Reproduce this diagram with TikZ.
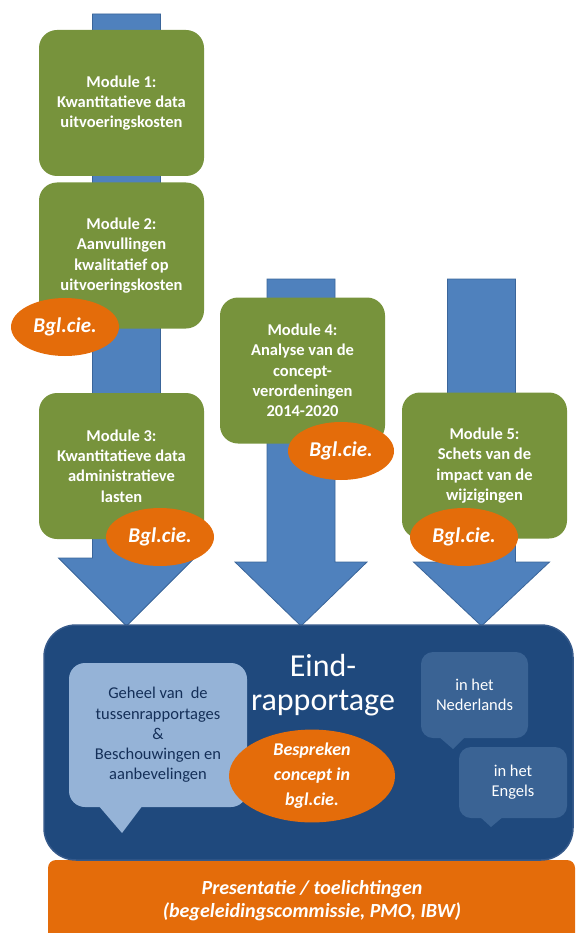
\documentclass[tikz,border=0pt]{standalone}
\usepackage{fontspec}
\setmainfont{Carlito}
\usetikzlibrary{shapes.geometric}
\definecolor{modgreen}{HTML}{77933C}
\definecolor{bglorange}{HTML}{E46C0A}
\definecolor{arrowblue}{HTML}{4F81BD}
\definecolor{arrowedge}{HTML}{3A659A}
\definecolor{reportblue}{HTML}{1F497D}
\definecolor{reportedge}{HTML}{35598A}
\definecolor{lightcall}{HTML}{95B3D7}
\definecolor{darkcall}{HTML}{3A6394}
\definecolor{calltext}{HTML}{142F58}
% #1 centre x, #2 top y, #3 y of the head, #4 half width of the head
\newcommand{\blockarrow}[4]{%
\filldraw[fill=arrowblue, draw=arrowedge, line width=0.8pt] (#1-34,#2) -- (#1+34,#2) -- (#1+34,#3) -- (#1+#4,#3) -- (#1,626) -- (#1-#4,#3) -- (#1-34,#3) -- cycle;}
\begin{document}
\begin{tikzpicture}[x=1pt, y=-1pt,
  module/.style={fill=modgreen, rounded corners=18pt, minimum width=165pt, minimum height=146pt,
    inner sep=0pt, text=white, align=center, font=\bfseries\fontsize{16.5}{20.3}\selectfont},
  bgl/.style={ellipse, fill=bglorange, minimum width=108pt, minimum height=58pt, inner sep=0pt,
    text=white, font=\bfseries\itshape\fontsize{21}{24}\selectfont},
  callbox/.style={rounded corners=12pt, inner sep=0pt, align=center, fill=darkcall, text=white,
    font=\fontsize{16.5}{20}\selectfont}]
\useasboundingbox (0,0) rectangle (576,933);
% arrows
\blockarrow{126.5}{14}{558}{68}
\blockarrow{301}{279}{562}{66}
\blockarrow{481.5}{279}{562}{68}
% modules
\node[module] (mod1) at (121.5,103) {Module 1:\\Kwantitatieve data\\uitvoeringskosten};
\node[module] (mod2) at (121.5,255.5) {Module 2:\\Aanvullingen\\kwalitatief op\\uitvoeringskosten};
\node[module] (mod3) at (121.5,466) {Module 3:\\Kwantitatieve data\\administratieve\\lasten};
\node[module] (mod4) at (302.5,370.5) {Module 4:\\Analyse van de\\concept-\\verordeningen\\2014-2020};
\node[module] (mod5) at (484.5,465.5) {Module 5:\\Schets van de\\impact van de\\wijzigingen};
\node[bgl] (bgl2) at (65,327) {Bgl.cie.};
\node[bgl] (bgl3) at (160,537) {Bgl.cie.};
\node[bgl, minimum width=106pt] (bgl4) at (341,451) {Bgl.cie.};
\node[bgl] (bgl5) at (464,537) {Bgl.cie.};
% presentation bar and final report
\fill[bglorange, rounded corners=8pt] (48,945) -- (48,860) -- (575,860) -- (575,945) -- cycle;
\node[text=white, align=center, font=\bfseries\itshape\fontsize{20}{23}\selectfont] (pres) at (312,901)
  {Presentatie / toelichtingen\\(begeleidingscommissie, PMO, IBW)};
\node[fill=reportblue, draw=reportedge, line width=1.5pt, rounded corners=32pt, minimum width=529pt, minimum height=235pt, inner sep=0pt] (report) at (308.5,742.5) {};
\node[text=white, align=center, font=\fontsize{32}{34}\selectfont] (eind) at (323,685) {Eind-\\rapportage};
\node[callbox, fill=lightcall, text=calltext, minimum width=178pt, minimum height=144pt, rounded corners=16pt,
  font=\fontsize{16.5}{20.3}\selectfont] (geheel) at (158,735)
  {Geheel van\ \ de\\tussenrapportages\\\&\\Beschouwingen en\\aanbevelingen};
\fill[lightcall] (98,805) -- (122,833) -- (143,805) -- cycle;
\node[callbox, minimum width=107pt, minimum height=86pt] (nl) at (474.5,695) {in het\\Nederlands};
\fill[darkcall] (438,736) -- (453,749) -- (466,736) -- cycle;
\node[callbox, minimum width=108pt, minimum height=71pt] (en) at (513,782.5) {in het\\Engels};
\fill[darkcall] (479,816) -- (491,827) -- (504,816) -- cycle;
\node[bgl, minimum width=166pt, minimum height=78pt, align=center, font=\bfseries\itshape\fontsize{18}{25}\selectfont] (bespreken) at (312,776)
  {Bespreken\\concept in\\bgl.cie.};
\end{tikzpicture}
\end{document}
